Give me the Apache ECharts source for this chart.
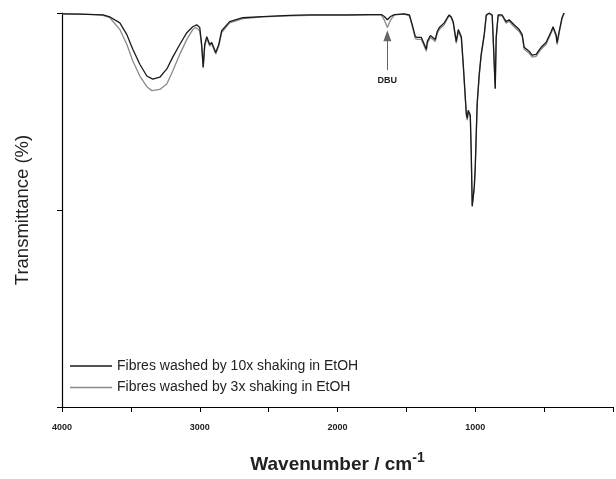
<!DOCTYPE html>
<html>
<head>
<meta charset="utf-8">
<script src="https://cdn.jsdelivr.net/npm/echarts@6/dist/echarts.min.js"></script>
<style>html,body{margin:0;padding:0;background:#fff}#c{width:616px;height:479px}</style>
</head>
<body>
<div id="c"></div>
<script>
var seriesNames = ['Fibres washed by 10x shaking in EtOH', 'Fibres washed by 3x shaking in EtOH'];
var xTicks = [4000, 3000, 2000, 1000];

var wn10 = [4000,3870,3761,3703,3652,3580,3529,3486,3435,3384,3341,3290,3239,3196,3145,3094,3051,3022,3000,2986,2975,2964,2949,2928,2913,2884,2862,2841,2783,2688,2544,2348,2203,1964,1950,1936,1768,1681,1660,1638,1615,1587,1515,1478,1457,1435,1420,1391,1377,1355,1348,1326,1312,1290,1276,1261,1247,1225,1203,1189,1174,1160,1138,1123,1101,1087,1065,1058,1051,1036,1029,1022,1007,1000,986,971,957,935,920,899,877,870,855,848,834,805,776,754,718,681,659,645,609,587,558,522,486,449,435,413,406,391,370,355];
var tr10 = [99.8,99.7,99.6,99.5,99.0,97.5,94.5,90.8,87.0,84.0,83.2,83.7,85.8,88.8,92.0,95.0,96.5,97.0,96.3,92.0,86.3,92.0,94.0,92.0,92.5,90.0,92.0,95.5,97.8,98.8,99.1,99.4,99.5,99.5,99.0,99.5,99.6,99.6,99.1,98.3,99.1,99.6,99.8,99.5,97.0,94.0,93.8,93.8,94.0,90.8,92.8,94.3,93.8,93.3,95.3,96.3,95.8,97.5,98.8,99.5,99.0,97.8,92.8,95.8,94.0,87.0,74.6,73.3,75.3,74.1,64.6,50.9,55.9,60.9,77.1,84.5,89.5,94.5,99.5,100,99.5,93.8,80.8,93.8,99.5,99.5,97.8,98.3,97.0,95.8,94.5,91.3,90.3,89.3,89.5,91.3,92.5,95.3,96.5,94.5,92.5,95.3,98.8,100];

var wn3 = [4000,3870,3761,3703,3652,3580,3529,3486,3435,3384,3348,3290,3239,3196,3145,3094,3051,3029,3000,2986,2975,2964,2949,2928,2913,2884,2862,2841,2783,2688,2544,2348,2203,1964,1950,1936,1768,1681,1660,1638,1615,1587,1515,1478,1457,1435,1420,1391,1377,1355,1348,1326,1312,1290,1276,1261,1247,1225,1203,1189,1174,1160,1138,1123,1101,1087,1065,1058,1051,1036,1029,1022,1007,1000,986,971,957,935,920,899,877,870,855,848,834,805,776,754,718,681,659,645,609,587,558,522,486,449,435,413,406,391,370,355];
var tr3 = [99.8,99.7,99.6,99.4,98.8,95.8,92.0,87.8,84.0,81.3,80.3,80.6,82.0,85.3,89.5,93.3,95.8,96.3,95.5,91.5,86.0,91.5,93.6,91.6,92.1,89.6,91.6,95.0,97.5,98.6,99.0,99.3,99.4,99.4,98.9,99.4,99.5,99.5,98.2,96.3,98.2,99.5,99.7,99.3,96.6,93.5,93.3,93.3,93.5,90.3,92.3,93.8,93.3,92.8,94.8,95.8,95.3,97.0,98.5,99.3,98.8,97.4,92.3,95.3,93.5,86.5,74.0,72.8,74.8,73.6,64.2,51.2,55.5,60.5,76.7,84.1,89.2,94.2,99.3,99.9,99.3,93.5,80.9,93.5,99.3,99.3,97.4,97.9,96.5,95.3,94.0,90.8,89.8,88.8,89.0,90.8,92.0,94.9,96.1,94.1,92.0,94.9,98.6,100];

function pairs(x, y) { return x.map(function (v, i) { return [v, y[i]]; }); }

var FONT = 'Liberation Sans, Arial, sans-serif';
var chart = echarts.init(document.getElementById('c'), null, {renderer: 'canvas'});
chart.setOption({
  animation: false,
  backgroundColor: '#fff',
  grid: {left: 62, right: 2, top: 13, bottom: 67},
  legend: {
    orient: 'vertical', left: 65, top: 354,
    data: seriesNames,
    icon: 'rect', itemWidth: 42, itemHeight: 1.5, itemGap: 7.5,
    textStyle: {fontFamily: FONT, fontSize: 14, color: '#222'},
    selectedMode: false
  },
  xAxis: {
    type: 'value', inverse: true, min: 0, max: 4000, interval: 1000,
    axisLine: {onZero: false, lineStyle: {color: '#000', width: 1.2}},
    axisTick: {inside: false, length: 5, lineStyle: {color: '#000', width: 1}},
    minorTick: {show: true, splitNumber: 2, length: 5, lineStyle: {color: '#000', width: 1}},
    splitLine: {show: false},
    axisLabel: {
      fontFamily: FONT, fontSize: 9, fontWeight: 'bold', color: '#222', margin: 16,
      formatter: function (v) { return xTicks.indexOf(v) >= 0 ? String(v) : ''; }
    },
    name: '{a|Wavenumber / cm}{s|-1}',
    nameLocation: 'middle', nameGap: 44,
    nameTextStyle: {
      rich: {
        a: {fontFamily: FONT, fontSize: 19, fontWeight: 'bold', color: '#222', verticalAlign: 'bottom'},
        s: {fontFamily: FONT, fontSize: 14, fontWeight: 'bold', color: '#222', verticalAlign: 'top', padding: [0, 0, 9, 0]}
      }
    }
  },
  yAxis: {
    type: 'value', min: 0, max: 100, interval: 50, position: 'left',
    axisLine: {show: true, onZero: false, lineStyle: {color: '#000', width: 1.2}},
    axisTick: {show: true, inside: false, length: 5, lineStyle: {color: '#000'}},
    axisLabel: {show: false},
    splitLine: {show: false},
    name: 'Transmittance (%)', nameLocation: 'middle', nameGap: 30,
    nameTextStyle: {fontFamily: FONT, fontSize: 18.5, color: '#222'}
  },
  series: [
    {
      name: seriesNames[1], type: 'line', showSymbol: false, symbol: 'none',
      data: pairs(wn3, tr3),
      lineStyle: {color: '#8a8a8a', width: 1.3}, itemStyle: {color: '#8a8a8a'},
      markLine: {
        silent: true, symbol: ['none', 'triangle'], symbolSize: [8, 11],
        lineStyle: {color: '#666', width: 1, type: 'solid'},
        label: {show: true, position: 'start', formatter: 'DBU', fontFamily: FONT, fontSize: 9, fontWeight: 'bold', color: '#222', distance: 6},
        data: [[{coord: [1638, 85.5]}, {coord: [1638, 94.2]}]]
      }
    },
    {
      name: seriesNames[0], type: 'line', showSymbol: false, symbol: 'none',
      data: pairs(wn10, tr10),
      lineStyle: {color: '#1a1a1a', width: 1.3}, itemStyle: {color: '#1a1a1a'}
    }
  ]
});
</script>
</body>
</html>
